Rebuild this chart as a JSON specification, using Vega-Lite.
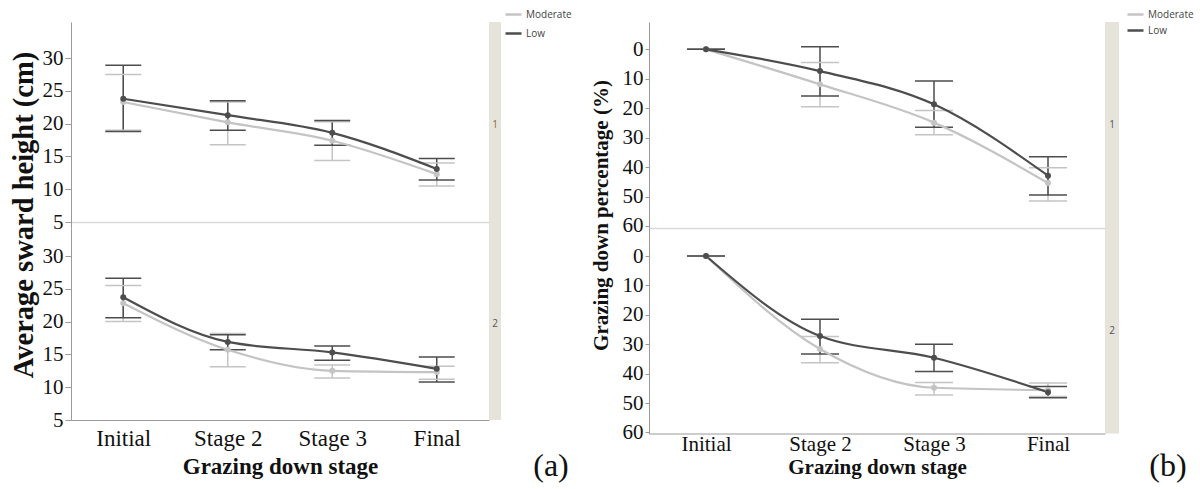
{
  "$schema": "https://vega.github.io/schema/vega-lite/v6.json",
  "autosize": {"type": "none"},
  "padding": {"left": 71, "top": 22, "right": 1129, "bottom": 467},
  "background": "white",
  "config": {
    "font": "Liberation Serif",
    "view": {"stroke": null},
    "axis": {"grid": false, "labelOverlap": false},
    "title": {"offset": 0}
  },
  "datasets": {
    "a": [
      {"row": 1, "stage": "Initial", "group": "Moderate", "mean": 23.3, "lo": 19.0, "hi": 27.5},
      {"row": 1, "stage": "Stage 2", "group": "Moderate", "mean": 20.2, "lo": 16.8, "hi": 23.3},
      {"row": 1, "stage": "Stage 3", "group": "Moderate", "mean": 17.4, "lo": 14.4, "hi": 20.3},
      {"row": 1, "stage": "Final", "group": "Moderate", "mean": 12.3, "lo": 10.5, "hi": 14.0},
      {"row": 1, "stage": "Initial", "group": "Low", "mean": 23.8, "lo": 18.8, "hi": 28.9},
      {"row": 1, "stage": "Stage 2", "group": "Low", "mean": 21.3, "lo": 19.0, "hi": 23.5},
      {"row": 1, "stage": "Stage 3", "group": "Low", "mean": 18.6, "lo": 16.7, "hi": 20.5},
      {"row": 1, "stage": "Final", "group": "Low", "mean": 13.1, "lo": 11.4, "hi": 14.7},
      {"row": 2, "stage": "Initial", "group": "Moderate", "mean": 22.8, "lo": 20.0, "hi": 25.5},
      {"row": 2, "stage": "Stage 2", "group": "Moderate", "mean": 15.7, "lo": 13.1, "hi": 18.2},
      {"row": 2, "stage": "Stage 3", "group": "Moderate", "mean": 12.5, "lo": 11.4, "hi": 13.4},
      {"row": 2, "stage": "Final", "group": "Moderate", "mean": 12.3, "lo": 11.2, "hi": 13.2},
      {"row": 2, "stage": "Initial", "group": "Low", "mean": 23.7, "lo": 20.6, "hi": 26.6},
      {"row": 2, "stage": "Stage 2", "group": "Low", "mean": 16.9, "lo": 15.7, "hi": 18.0},
      {"row": 2, "stage": "Stage 3", "group": "Low", "mean": 15.3, "lo": 14.1, "hi": 16.3},
      {"row": 2, "stage": "Final", "group": "Low", "mean": 12.8, "lo": 10.8, "hi": 14.6}
    ],
    "b": [
      {"row": 1, "stage": "Initial", "group": "Moderate", "mean": 0, "lo": 0, "hi": 0},
      {"row": 1, "stage": "Stage 2", "group": "Moderate", "mean": 11.9, "lo": 4.5, "hi": 19.5},
      {"row": 1, "stage": "Stage 3", "group": "Moderate", "mean": 24.9, "lo": 20.8, "hi": 29.0},
      {"row": 1, "stage": "Final", "group": "Moderate", "mean": 45.4, "lo": 40.2, "hi": 51.5},
      {"row": 1, "stage": "Initial", "group": "Low", "mean": 0, "lo": 0, "hi": 0},
      {"row": 1, "stage": "Stage 2", "group": "Low", "mean": 7.4, "lo": -0.9, "hi": 15.9},
      {"row": 1, "stage": "Stage 3", "group": "Low", "mean": 18.7, "lo": 10.8, "hi": 26.5},
      {"row": 1, "stage": "Final", "group": "Low", "mean": 42.9, "lo": 36.5, "hi": 49.5},
      {"row": 2, "stage": "Initial", "group": "Moderate", "mean": 0, "lo": 0, "hi": 0},
      {"row": 2, "stage": "Stage 2", "group": "Moderate", "mean": 31.6, "lo": 27.4, "hi": 36.3},
      {"row": 2, "stage": "Stage 3", "group": "Moderate", "mean": 44.8, "lo": 43.0, "hi": 47.3},
      {"row": 2, "stage": "Final", "group": "Moderate", "mean": 45.6, "lo": 43.2, "hi": 47.8},
      {"row": 2, "stage": "Initial", "group": "Low", "mean": 0, "lo": 0, "hi": 0},
      {"row": 2, "stage": "Stage 2", "group": "Low", "mean": 27.2, "lo": 21.5, "hi": 33.3},
      {"row": 2, "stage": "Stage 3", "group": "Low", "mean": 34.6, "lo": 30.0, "hi": 39.3},
      {"row": 2, "stage": "Final", "group": "Low", "mean": 46.3, "lo": 44.4, "hi": 48.2}
    ]
  },
  "resolve": {"scale": {"color": "independent"}, "legend": {"color": "independent"}},
  "bounds": "flush",
  "align": "none",
  "spacing": 0,
  "columns": 5,
  "concat": [
    {
      "width": 418, "height": 206,
      "data": {"name": "a"},
      "transform": [{"filter": "datum.row == 1"}],
      "encoding": {
        "x": {"field": "stage", "type": "ordinal", "scale": {"type": "point", "padding": 0.5, "domain": ["Initial", "Stage 2", "Stage 3", "Final"]},
          "axis": {"labels": false, "ticks": false, "tickSize": 0, "offset": -6, "domainColor": "#d9d9d9", "domainWidth": 1.5, "title": null}},
        "color": {"field": "group", "type": "nominal", "scale": {"domain": ["Moderate", "Low"], "range": ["#c4c4c4", "#4d4d4d"]},
          "legend": {"title": null, "orient": "none", "legendX": 433, "legendY": -17, "symbolType": "stroke", "symbolSize": 256, "symbolStrokeWidth": 2.5, "labelFont": "Open Sans", "labelFontSize": 10, "labelColor": "#444", "labelOffset": 3, "rowPadding": 4, "padding": 0}}
      },
      "layer": [
        {"mark": {"type": "rule", "strokeWidth": 1.5},
          "encoding": {"y": {"field": "lo", "type": "quantitative", "scale": {"domain": [4.09, 35.5], "nice": false, "zero": false},
            "title": "Average sward height (cm)",
            "axis": {"values": [5, 10, 15, 20, 25, 30], "tickCount": 20, "labelOverlap": false, "domainColor": "#9a9a9a", "tickColor": "#9a9a9a", "tickSize": 6, "labelFont": "Liberation Serif", "labelFontSize": 21, "labelColor": "#111", "labelPadding": 2,
              "titleFont": "Liberation Serif", "titleFontSize": 28.5, "titleFontWeight": "bold", "titleColor": "#111", "titleX": -48, "titleY": 192.5, "titleBaseline": "middle", "titleAlign": "center", "titleAnchor": "middle"}},
            "y2": {"field": "hi"}}},
        {"mark": {"type": "tick", "size": 36, "thickness": 1.5, "opacity": 1}, "encoding": {"y": {"field": "lo", "type": "quantitative", "title": "Average sward height (cm)"}}},
        {"mark": {"type": "tick", "size": 36, "thickness": 1.5, "opacity": 1}, "encoding": {"y": {"field": "hi", "type": "quantitative", "title": "Average sward height (cm)"}}},
        {"mark": {"type": "line", "interpolate": "monotone", "strokeWidth": 2.2}, "encoding": {"y": {"field": "mean", "type": "quantitative", "title": "Average sward height (cm)"}}},
        {"mark": {"type": "circle", "size": 36, "opacity": 1}, "encoding": {"y": {"field": "mean", "type": "quantitative", "title": "Average sward height (cm)"}}}
      ]
    },
    {
      "width": 12, "height": 206,
      "view": {"fill": "#e6e4da", "stroke": null},
      "data": {"values": [{"lab": "1"}]},
      "mark": {"type": "text", "font": "Open Sans", "fontSize": 10, "color": "#8b6a3e"},
      "encoding": {"text": {"field": "lab"}}
    },
    {
      "width": 148, "height": 206,
      "data": {"values": []},
      "mark": {"type": "point", "opacity": 0}
    },
    {
      "width": 456, "height": 206,
      "data": {"name": "b"},
      "transform": [{"filter": "datum.row == 1"}],
      "encoding": {
        "x": {"field": "stage", "type": "ordinal", "scale": {"type": "point", "padding": 0.5, "domain": ["Initial", "Stage 2", "Stage 3", "Final"]},
          "axis": {"labels": false, "ticks": false, "tickSize": 0, "domainColor": "#d9d9d9", "domainWidth": 1.5, "title": null}},
        "color": {"field": "group", "type": "nominal", "scale": {"domain": ["Moderate", "Low"], "range": ["#c4c4c4", "#4d4d4d"]},
          "legend": {"title": null, "orient": "none", "legendX": 477, "legendY": -17, "symbolType": "stroke", "symbolSize": 256, "symbolStrokeWidth": 2.5, "labelFont": "Open Sans", "labelFontSize": 10, "labelColor": "#444", "labelOffset": 3, "rowPadding": 1, "padding": 0}}
      },
      "layer": [
        {"mark": {"type": "rule", "strokeWidth": 1.5},
          "encoding": {"y": {"field": "lo", "type": "quantitative", "scale": {"domain": [-9.27, 60.68], "reverse": true, "nice": false, "zero": false},
            "title": "Grazing down percentage (%)",
            "axis": {"values": [0, 10, 20, 30, 40, 50, 60], "tickCount": 20, "labelOverlap": false, "domainColor": "#9a9a9a", "tickColor": "#9a9a9a", "tickSize": 4, "labelFont": "Liberation Serif", "labelFontSize": 21, "labelColor": "#111", "labelPadding": 2,
              "titleFont": "Liberation Serif", "titleFontSize": 21, "titleFontWeight": "bold", "titleColor": "#111", "titleX": -48, "titleY": 193, "titleBaseline": "middle", "titleAlign": "center", "titleAnchor": "middle"}},
            "y2": {"field": "hi"}}},
        {"mark": {"type": "tick", "size": 38, "thickness": 1.5, "opacity": 1}, "encoding": {"y": {"field": "lo", "type": "quantitative", "title": "Grazing down percentage (%)"}}},
        {"mark": {"type": "tick", "size": 38, "thickness": 1.5, "opacity": 1}, "encoding": {"y": {"field": "hi", "type": "quantitative", "title": "Grazing down percentage (%)"}}},
        {"mark": {"type": "line", "interpolate": "monotone", "strokeWidth": 2.2}, "encoding": {"y": {"field": "mean", "type": "quantitative", "title": "Grazing down percentage (%)"}}},
        {"mark": {"type": "circle", "size": 36, "opacity": 1}, "encoding": {"y": {"field": "mean", "type": "quantitative", "title": "Grazing down percentage (%)"}}}
      ]
    },
    {
      "width": 14, "height": 206,
      "view": {"fill": "#e6e4da", "stroke": null},
      "data": {"values": [{"lab": "1"}]},
      "mark": {"type": "text", "font": "Open Sans", "fontSize": 10, "color": "#555"},
      "encoding": {"text": {"field": "lab"}}
    },
    {
      "width": 418, "height": 192,
      "data": {"name": "a"},
      "transform": [{"filter": "datum.row == 2"}],
      "encoding": {
        "x": {"field": "stage", "type": "ordinal", "scale": {"type": "point", "padding": 0.5, "domain": ["Initial", "Stage 2", "Stage 3", "Final"]},
          "axis": {"labelAngle": 0, "ticks": false, "tickSize": 0, "domainColor": "#9a9a9a", "labelFont": "Liberation Serif", "labelFontSize": 23, "labelColor": "#111", "labelBaseline": "alphabetic", "labelPadding": 25,
            "title": "Grazing down stage", "titleFont": "Liberation Serif", "titleFontSize": 23, "titleFontWeight": "bold", "titleColor": "#111", "titleY": 53, "titleBaseline": "alphabetic"}},
        "color": {"field": "group", "type": "nominal", "scale": {"domain": ["Moderate", "Low"], "range": ["#c4c4c4", "#4d4d4d"]}, "legend": null}
      },
      "layer": [
        {"mark": {"type": "rule", "strokeWidth": 1.5},
          "encoding": {"y": {"field": "lo", "type": "quantitative", "scale": {"domain": [5, 34.27], "nice": false, "zero": false}, "title": null,
            "axis": {"values": [5, 10, 15, 20, 25, 30], "tickCount": 20, "labelOverlap": false, "domainColor": "#9a9a9a", "tickColor": "#9a9a9a", "tickSize": 6, "labelFont": "Liberation Serif", "labelFontSize": 21, "labelColor": "#111", "labelPadding": 2}},
            "y2": {"field": "hi"}}},
        {"mark": {"type": "tick", "size": 36, "thickness": 1.5, "opacity": 1}, "encoding": {"y": {"field": "lo", "type": "quantitative", "title": null}}},
        {"mark": {"type": "tick", "size": 36, "thickness": 1.5, "opacity": 1}, "encoding": {"y": {"field": "hi", "type": "quantitative", "title": null}}},
        {"mark": {"type": "line", "interpolate": "monotone", "strokeWidth": 2.2}, "encoding": {"y": {"field": "mean", "type": "quantitative", "title": null}}},
        {"mark": {"type": "circle", "size": 36, "opacity": 1}, "encoding": {"y": {"field": "mean", "type": "quantitative", "title": null}}}
      ]
    },
    {
      "width": 12, "height": 192,
      "view": {"fill": "#e6e4da", "stroke": null},
      "title": {"text": "(a)", "orient": "bottom", "anchor": "middle", "font": "Liberation Serif", "fontSize": 32, "fontWeight": "normal", "color": "#111", "baseline": "alphabetic", "offset": 0, "dx": 56, "dy": 56},
      "data": {"values": [{"lab": "2"}]},
      "mark": {"type": "text", "font": "Open Sans", "fontSize": 10, "color": "#555"},
      "encoding": {"text": {"field": "lab"}}
    },
    {
      "width": 148, "height": 192,
      "data": {"values": []},
      "mark": {"type": "point", "opacity": 0}
    },
    {
      "width": 456, "height": 205.5,
      "data": {"name": "b"},
      "transform": [{"filter": "datum.row == 2"}],
      "encoding": {
        "x": {"field": "stage", "type": "ordinal", "scale": {"type": "point", "padding": 0.5, "domain": ["Initial", "Stage 2", "Stage 3", "Final"]},
          "axis": {"labelAngle": 0, "ticks": false, "tickSize": 0, "domainColor": "#9a9a9a", "labelFont": "Liberation Serif", "labelFontSize": 21, "labelColor": "#111", "labelBaseline": "alphabetic", "labelPadding": 17,
            "title": "Grazing down stage", "titleFont": "Liberation Serif", "titleFontSize": 21, "titleFontWeight": "bold", "titleColor": "#111", "titleY": 39.5, "titleBaseline": "alphabetic"}},
        "color": {"field": "group", "type": "nominal", "scale": {"domain": ["Moderate", "Low"], "range": ["#c4c4c4", "#4d4d4d"]}, "legend": null}
      },
      "layer": [
        {"mark": {"type": "rule", "strokeWidth": 1.5},
          "encoding": {"y": {"field": "lo", "type": "quantitative", "scale": {"domain": [-9.52, 60.35], "reverse": true, "nice": false, "zero": false}, "title": null,
            "axis": {"values": [0, 10, 20, 30, 40, 50, 60], "tickCount": 20, "labelOverlap": false, "domainColor": "#9a9a9a", "tickColor": "#9a9a9a", "tickSize": 4, "labelFont": "Liberation Serif", "labelFontSize": 21, "labelColor": "#111", "labelPadding": 2}},
            "y2": {"field": "hi"}}},
        {"mark": {"type": "tick", "size": 38, "thickness": 1.5, "opacity": 1}, "encoding": {"y": {"field": "lo", "type": "quantitative", "title": null}}},
        {"mark": {"type": "tick", "size": 38, "thickness": 1.5, "opacity": 1}, "encoding": {"y": {"field": "hi", "type": "quantitative", "title": null}}},
        {"mark": {"type": "line", "interpolate": "monotone", "strokeWidth": 2.2}, "encoding": {"y": {"field": "mean", "type": "quantitative", "title": null}}},
        {"mark": {"type": "circle", "size": 36, "opacity": 1}, "encoding": {"y": {"field": "mean", "type": "quantitative", "title": null}}}
      ]
    },
    {
      "width": 14, "height": 205.5,
      "view": {"fill": "#e6e4da", "stroke": null},
      "title": {"text": "(b)", "orient": "bottom", "anchor": "middle", "font": "Liberation Serif", "fontSize": 32, "fontWeight": "normal", "color": "#111", "baseline": "alphabetic", "offset": 0, "dx": 56, "dy": 42.5},
      "data": {"values": [{"lab": "2"}]},
      "mark": {"type": "text", "font": "Open Sans", "fontSize": 10, "color": "#555"},
      "encoding": {"text": {"field": "lab"}}
    }
  ]
}
